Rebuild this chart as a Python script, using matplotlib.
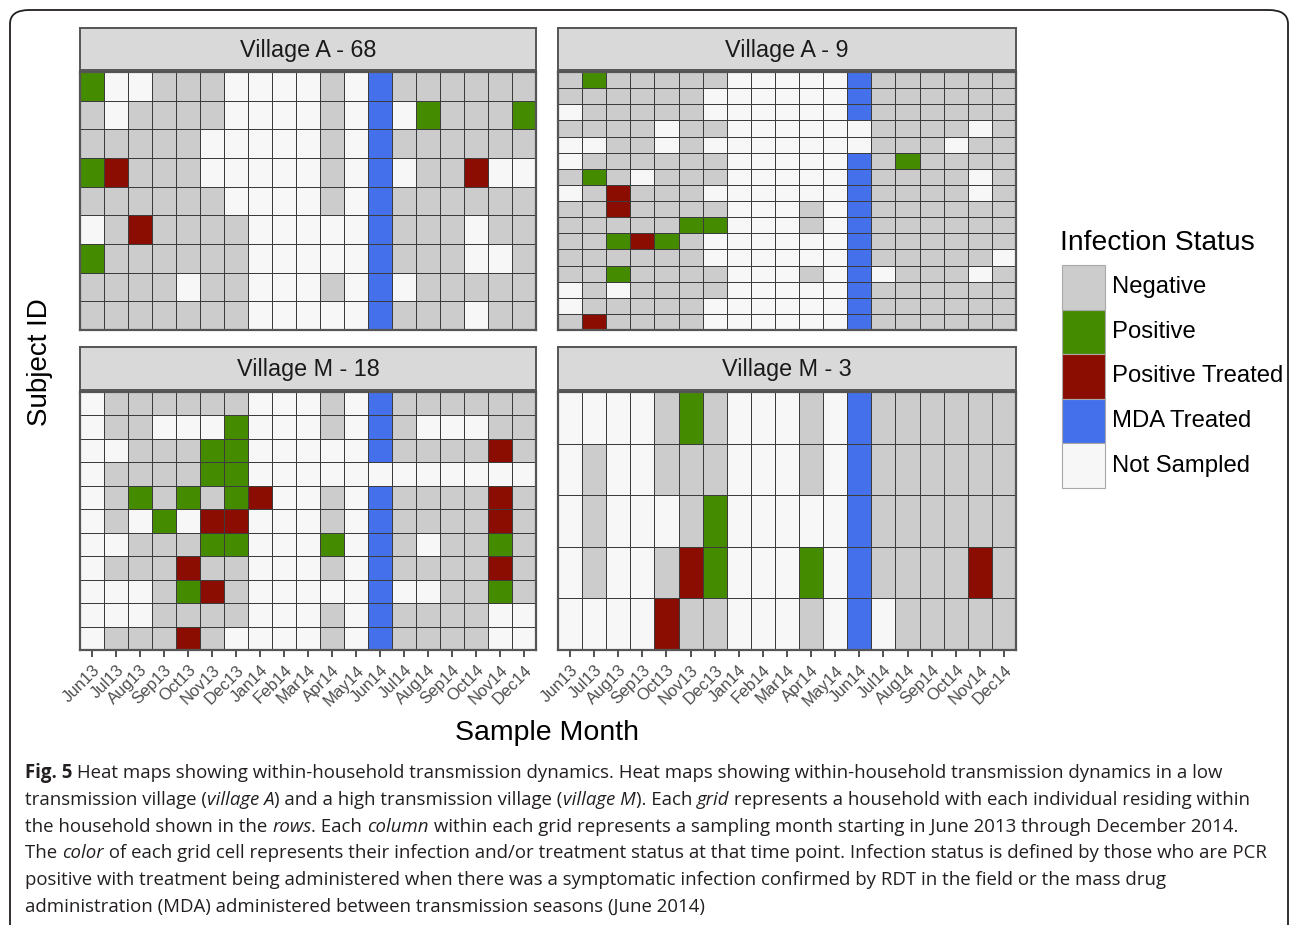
import numpy as np
import matplotlib.pyplot as plt
from matplotlib.colors import ListedColormap, BoundaryNorm
from matplotlib.patches import Rectangle, FancyBboxPatch

plt.rcParams["font.family"] = ["Liberation Sans", "DejaVu Sans"]

# 1) Data: one string per subject (row), one letter per sample month
months = ["Jun13", "Jul13", "Aug13", "Sep13", "Oct13", "Nov13", "Dec13", "Jan14",
          "Feb14", "Mar14", "Apr14", "May14", "Jun14", "Jul14", "Aug14", "Sep14",
          "Oct14", "Nov14", "Dec14"]
statuses = ["Negative", "Positive", "Positive Treated", "MDA Treated", "Not Sampled"]
status_colors = ["#CCCCCC", "#458B00", "#8B0C00", "#4470EC", "#F7F7F7"]
# g = negative, P = positive, T = positive treated, M = MDA treated, w = not sampled
letter_codes = {"g": 0, "P": 1, "T": 2, "M": 3, "w": 4}

village_a68 = [
    "PwwgggwwwwgwMgggggg",
    "gwggggwwwwgwMwPgggP",
    "gggggwwwwwgwMgggggg",
    "PTgggwwwwwgwMwggTww",
    "ggggggwwwwgwMgggggg",
    "wgTggggwwwwwMgggwgg",
    "PggggggwwwwwMgggwwg",
    "ggggwggwwwgwMwggggg",
    "gggggggwwwwwMgggwgg",
]

village_a9 = [
    "gPgggggwwwwwMgggggg",
    "ggggggwwwwwwMgggggg",
    "wgggggwwwwwwMgggggg",
    "ggggwggwwwwwwggggwg",
    "wwggwgwwwwwwwgggwgg",
    "wggggggwwwwwMgPgggg",
    "gPgwgggwwwwwMggggwg",
    "wgTgggwwwwwwMggggwg",
    "ggTggggwwwgwMgggggg",
    "gggggPPwwwgwMgggggg",
    "ggPTPgwwwwwwMgggggg",
    "ggggggwwwwwwMgggggw",
    "ggPggggwwwgwMwgggwg",
    "wgwggggwwwwwMgggggg",
    "wgggggwwwwwwMgggggg",
    "gTggggwwwwwwMgggggg",
]

village_m18 = [
    "wggggggwwwgwMgggggg",
    "wggwwwPwwwgwMgwwwgg",
    "wwgggPPwwwwwMggggTg",
    "wggggPPwwwwwwwwwwww",
    "wgPgPgPTwwgwMggggTg",
    "wgwPwTTwwwgwMggggTg",
    "wwgggPPwwwPwMgwggPg",
    "wgggTggwwwgwMggggTg",
    "wwwgPTgwwwwwMwwggPg",
    "wwwggggwwwgwMggggww",
    "wgggTgwwwwgwMggggww",
]

village_m3 = [
    "wwwwgPgwwwgwMgggggg",
    "wgwwgggwwwgwMgggggg",
    "wgwwwgPwwwwwMgggggg",
    "wgwwgTPwwwPwMggggTg",
    "wwwwTggwwwgwMwggggg",
]

panels = [("Village A - 68", village_a68), ("Village A - 9", village_a9),
          ("Village M - 18", village_m18), ("Village M - 3", village_m3)]

cmap = ListedColormap(status_colors)
norm = BoundaryNorm(np.arange(-0.5, 5.5), cmap.N)

W, H = 1290, 925
fig = plt.figure(figsize=(W / 100, H / 100), dpi=100)


def fx(px):
    return px / W


def fy(py):
    return 1 - py / H


# 2) Panel boxes in pixels: (left, right, grid top, grid bottom, strip top)
boxes = [(80, 536, 72, 330, 28), (558, 1016, 72, 330, 28),
         (80, 536, 392, 650, 347), (558, 1016, 392, 650, 347)]

for (title, rows), (x0, x1, gy0, gy1, sy0) in zip(panels, boxes):
    grid = np.array([[letter_codes[c] for c in r] for r in rows])
    ax = fig.add_axes([fx(x0), fy(gy1), fx(x1 - x0), (gy1 - gy0) / H])
    ax.pcolormesh(np.arange(len(months) + 1), np.arange(len(rows) + 1), grid,
                  cmap=cmap, norm=norm, edgecolors="#3C3C3C", linewidth=0.7)
    ax.set_xlim(0, len(months))
    ax.set_ylim(len(rows), 0)
    ax.set_yticks([])
    ax.set_xticks(np.arange(len(months)) + 0.5)
    if gy0 > 300:
        ax.set_xticklabels(months, rotation=45, ha="right", va="top",
                           rotation_mode="anchor", fontsize=12, color="#4D4D4D")
        ax.tick_params(axis="x", length=5, width=1.2, color="#333333", pad=4)
    else:
        ax.set_xticklabels([])
        ax.tick_params(axis="x", length=0)
    for s in ax.spines.values():
        s.set_color("#555555")
        s.set_linewidth(1.6)

    sax = fig.add_axes([fx(x0), fy(gy0 - 2), fx(x1 - x0), (gy0 - 2 - sy0) / H])
    sax.set_facecolor("#D9D9D9")
    sax.set_xticks([])
    sax.set_yticks([])
    for s in sax.spines.values():
        s.set_color("#555555")
        s.set_linewidth(1.4)
    sax.text(0.5, 0.47, title, ha="center", va="center", fontsize=16.8,
             color="#1A1A1A", transform=sax.transAxes)

# 3) Axis titles
fig.text(fx(547), fy(733), "Sample Month", ha="center", va="center", fontsize=20.5)
fig.text(fx(40), fy(362), "Subject ID", ha="center", va="center", fontsize=20,
         rotation=90)

# 4) Legend drawn by hand
fig.text(fx(1060), fy(243), "Infection Status", ha="left", va="center", fontsize=20.3)
for i, (lab, col) in enumerate(zip(statuses, status_colors)):
    top = 265 + 44.6 * i
    fig.add_artist(Rectangle((fx(1062), fy(top + 44.6)), fx(43), 44.6 / H,
                             facecolor=col, edgecolor="#A8A8A8", linewidth=0.8,
                             transform=fig.transFigure))
    fig.text(fx(1112), fy(top + 22.3), lab, ha="left", va="center", fontsize=17.2)

# 5) Caption with bold / italic pieces
caption = [
    [("Fig. 5", "bold"), (" Heat maps showing within-household transmission dynamics. Heat maps "
                          "showing within-household transmission dynamics in a low", "normal")],
    [("transmission village (", "normal"), ("village A", "italic"),
     (") and a high transmission village (", "normal"), ("village M", "italic"),
     ("). Each ", "normal"), ("grid", "italic"),
     (" represents a household with each individual residing within", "normal")],
    [("the household shown in the ", "normal"), ("rows", "italic"), (". Each ", "normal"),
     ("column", "italic"),
     (" within each grid represents a sampling month starting in June 2013 through "
      "December 2014.", "normal")],
    [("The ", "normal"), ("color", "italic"),
     (" of each grid cell represents their infection and/or treatment status at that time "
      "point. Infection status is defined by those who are PCR", "normal")],
    [("positive with treatment being administered when there was a symptomatic infection "
      "confirmed by RDT in the field or the mass drug", "normal")],
    [("administration (MDA) administered between transmission seasons (June 2014)", "normal")],
]
cap_font = ["Open Sans", "DejaVu Sans"]
cap_size = 13.4
renderer = fig.canvas.get_renderer()


def text_width(s, style):
    # measure with a bar appended so trailing spaces count
    kw = dict(fontsize=cap_size, family=cap_font)
    if style == "bold":
        kw["weight"] = "bold"
    if style == "italic":
        kw["style"] = "italic"
    t1 = fig.text(0, 0, s + "|", **kw)
    t2 = fig.text(0, 0, "|", **kw)
    w = t1.get_window_extent(renderer).width - t2.get_window_extent(renderer).width
    t1.remove()
    t2.remove()
    return w


for li, line in enumerate(caption):
    x = 25
    y = 773 + 26.8 * li
    for s, style in line:
        kw = dict(fontsize=cap_size, family=cap_font, ha="left", va="center",
                  color="#231F20")
        if style == "bold":
            kw["weight"] = "bold"
        if style == "italic":
            kw["style"] = "italic"
        fig.text(fx(x), fy(y), s, **kw)
        x += text_width(s, style)

# 6) Rounded frame around the figure
fig.add_artist(FancyBboxPatch((fx(10), fy(960)), fx(1278), 950 / H,
                              boxstyle="round,pad=0,rounding_size=0.015",
                              facecolor="none", edgecolor="#231F20", linewidth=1.3,
                              transform=fig.transFigure, clip_on=False))

fig.savefig("out.png", dpi=100)
